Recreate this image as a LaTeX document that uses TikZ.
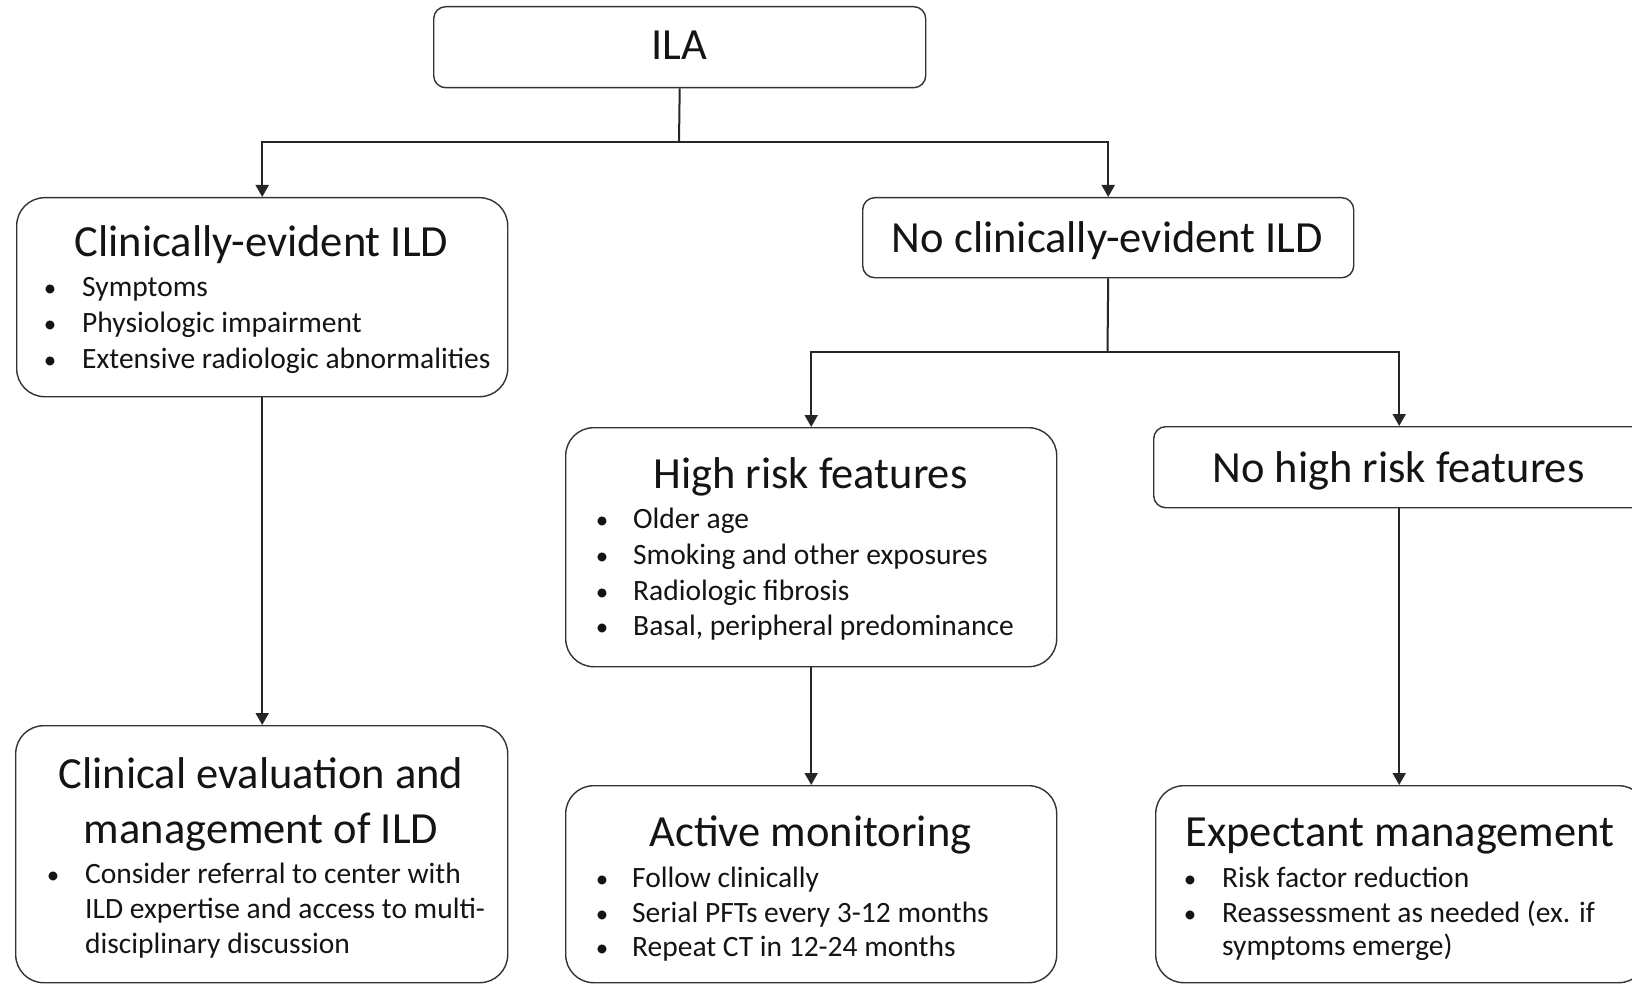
\documentclass[tikz,border=0pt]{standalone}
\usepackage{fontspec}
\setmainfont{Carlito}
\usetikzlibrary{arrows.meta}
\newcommand\bline[5]{%
  \node[dotst] (#1d) at (#2,#5) {•};
  \node[bul] (#1) at (#3,#5) {#4};}
\newcommand\contline[4]{%
  \node[bul] (#1) at (#2,#4) {#3};}
\begin{document}
\begin{tikzpicture}[x=1pt,y=-1pt,
  box/.style={draw=black!80, line width=1.4pt, rounded corners=#1, fill=white, inner sep=0pt, anchor=north west},
  ttl/.style={anchor=base, font=\fontsize{44.5}{53}\selectfont, text=black!92, inner sep=0pt},
  bul/.style={anchor=base west, font=\fontsize{29.5}{35}\selectfont, text=black!92, inner sep=0pt},
  dotst/.style={anchor=base, font=\fontsize{25}{30}\selectfont, text=black!92, inner sep=0pt},
  conn/.style={line width=2pt, draw=black!85},
  arr/.style={conn, -{Triangle[width=13pt,length=12pt]}}
]
\useasboundingbox (0,0) rectangle (1632,984);
\clip (0,0) rectangle (1632,984);

% boxes
\node[box=12pt, minimum width=492pt, minimum height=81pt] (ila) at (433,6) {};
\node[box=28pt, minimum width=491pt, minimum height=199pt] (ce) at (16,197) {};
\node[box=12pt, minimum width=491pt, minimum height=80pt] (nce) at (862,197) {};
\node[box=28pt, minimum width=491pt, minimum height=239pt] (hr) at (565,427) {};
\node[box=12pt, minimum width=491pt, minimum height=81pt] (nhr) at (1153,426) {};
\node[box=28pt, minimum width=492pt, minimum height=257pt] (ev) at (15,725) {};
\node[box=28pt, minimum width=491pt, minimum height=197pt] (am) at (565,785) {};
\node[box=28pt, minimum width=491pt, minimum height=197pt] (em) at (1155,785) {};

% connectors
\coordinate (j1) at (679,142);
\coordinate (j2) at (1107.5,352);
\draw[conn] (ila.south) -- (j1);
\draw[arr] (j1) -| (ce.north);
\draw[arr] (j1) -| (nce.north);
\draw[conn] (nce.south) -- (j2);
\draw[arr] (j2) -| (hr.north);
\draw[arr] (j2) -| (nhr.north);
\draw[arr] (ce.south) -- (ce.south |- ev.north);
\draw[arr] (hr.south) -- (am.north);
\draw[arr] (nhr.south) -- (nhr.south |- em.north);

% texts
\node[ttl] (ilaT) at (679,60) {ILA};
\node[ttl] (ceT) at (261.5,257) {Clinically-evident ILD};
\bline{ce1}{50}{82}{Symptoms}{296}
\bline{ce2}{50}{82}{Physiologic impairment}{332}
\bline{ce3}{50}{82}{Extensive radiologic abnormalities}{368}

\node[ttl] (nceT) at (1107.5,253) {No clinically-evident ILD};

\node[ttl] (hrT) at (810.5,488) {High risk features};
\bline{hr1}{602}{633}{Older age}{528}
\bline{hr2}{602}{633}{Smoking and other exposures}{564}
\bline{hr3}{602}{633}{Radiologic fibrosis}{600}
\bline{hr4}{602}{633}{Basal, peripheral predominance}{635}

\node[ttl] (nhrT) at (1398.5,482) {No high risk features};

\node[ttl] (evT1) at (261,788) {Clinical evaluation and};
\node[ttl] (evT2) at (261,843) {management of ILD};
\bline{ev1}{53}{85}{Consider referral to center with}{883}
\contline{ev2}{85}{ILD expertise and access to multi-}{918}
\contline{ev3}{85}{disciplinary discussion}{953}

\node[ttl] (amT) at (810.5,846) {Active monitoring};
\bline{am1}{602}{632}{Follow clinically}{887}
\bline{am2}{602}{632}{Serial PFTs every 3-12 months}{922}
\bline{am3}{602}{632}{Repeat CT in 12-24 months}{956}

\node[ttl] (emT) at (1400,846) {Expectant management};
\bline{em1}{1190}{1222}{Risk factor reduction}{887}
\bline{em2}{1190}{1222}{Reassessment as needed (ex. if}{922}
\contline{em3}{1222}{symptoms emerge)}{955}
\end{tikzpicture}
\end{document}
